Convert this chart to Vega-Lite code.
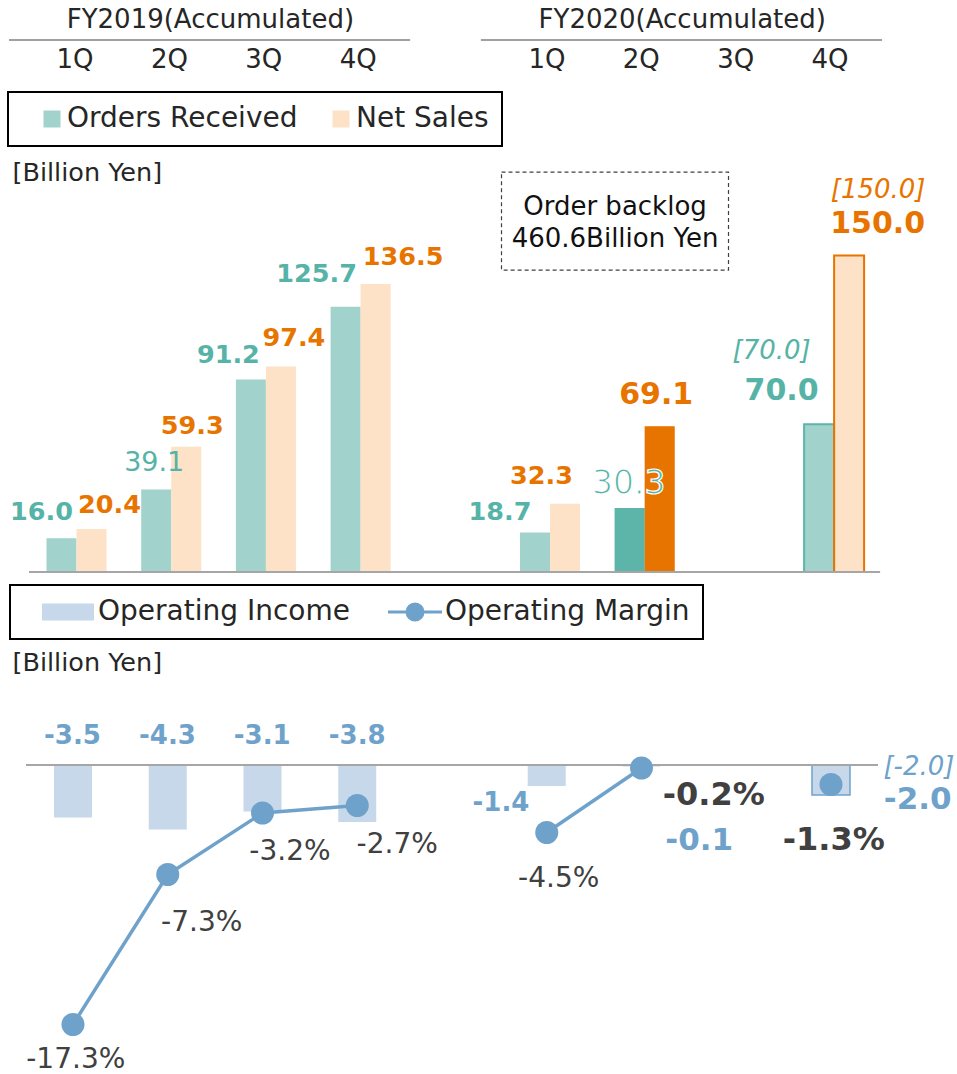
{
  "$schema": "https://vega.github.io/schema/vega-lite/v6.json",
  "padding": 0,
  "spacing": 103,
  "bounds": "flush",
  "resolve": {"scale": {"color": "independent", "fill": "independent", "stroke": "independent"}, "legend": {"color": "independent"}},
  "config": {
    "view": {"stroke": null},
    "font": "DejaVu Sans",
    "locale": {"number": {"decimal": ".", "thousands": ",", "grouping": [3], "currency": ["", ""], "minus": "-"}}
  },
  "datasets": {
    "quarters": [
      {"q": "FY19 1Q", "label": "1Q"}, {"q": "FY19 2Q", "label": "2Q"}, {"q": "FY19 3Q", "label": "3Q"}, {"q": "FY19 4Q", "label": "4Q"},
      {"q": "FY20 1Q", "label": "1Q"}, {"q": "FY20 2Q", "label": "2Q"}, {"q": "FY20 3Q", "label": "3Q"}, {"q": "FY20 4Q", "label": "4Q"}
    ],
    "fiscal": [
      {"fy": "FY2019(Accumulated)", "first": "FY19 1Q", "second": "FY19 2Q", "last": "FY19 4Q"},
      {"fy": "FY2020(Accumulated)", "first": "FY20 1Q", "second": "FY20 2Q", "last": "FY20 4Q"}
    ],
    "sales": [
      {"q": "FY19 1Q", "fy": "FY2019", "series": "Orders Received", "value": 16.0, "status": "actual"},
      {"q": "FY19 1Q", "fy": "FY2019", "series": "Net Sales", "value": 20.4, "status": "actual"},
      {"q": "FY19 2Q", "fy": "FY2019", "series": "Orders Received", "value": 39.1, "status": "actual"},
      {"q": "FY19 2Q", "fy": "FY2019", "series": "Net Sales", "value": 59.3, "status": "actual"},
      {"q": "FY19 3Q", "fy": "FY2019", "series": "Orders Received", "value": 91.2, "status": "actual"},
      {"q": "FY19 3Q", "fy": "FY2019", "series": "Net Sales", "value": 97.4, "status": "actual"},
      {"q": "FY19 4Q", "fy": "FY2019", "series": "Orders Received", "value": 125.7, "status": "actual"},
      {"q": "FY19 4Q", "fy": "FY2019", "series": "Net Sales", "value": 136.5, "status": "actual"},
      {"q": "FY20 1Q", "fy": "FY2020", "series": "Orders Received", "value": 18.7, "status": "actual"},
      {"q": "FY20 1Q", "fy": "FY2020", "series": "Net Sales", "value": 32.3, "status": "actual"},
      {"q": "FY20 2Q", "fy": "FY2020", "series": "Orders Received", "value": 30.3, "status": "latest"},
      {"q": "FY20 2Q", "fy": "FY2020", "series": "Net Sales", "value": 69.1, "status": "latest"},
      {"q": "FY20 4Q", "fy": "FY2020", "series": "Orders Received", "value": 70.0, "status": "forecast", "prev": 70.0},
      {"q": "FY20 4Q", "fy": "FY2020", "series": "Net Sales", "value": 150.0, "status": "forecast", "prev": 150.0}
    ],
    "lower": [
      {"q": "FY19 1Q", "fy": "FY2019", "measure": "Operating Income", "value": -3.5, "status": "actual"},
      {"q": "FY19 2Q", "fy": "FY2019", "measure": "Operating Income", "value": -4.3, "status": "actual"},
      {"q": "FY19 3Q", "fy": "FY2019", "measure": "Operating Income", "value": -3.1, "status": "actual"},
      {"q": "FY19 4Q", "fy": "FY2019", "measure": "Operating Income", "value": -3.8, "status": "actual"},
      {"q": "FY20 1Q", "fy": "FY2020", "measure": "Operating Income", "value": -1.4, "status": "actual"},
      {"q": "FY20 2Q", "fy": "FY2020", "measure": "Operating Income", "value": -0.1, "status": "latest"},
      {"q": "FY20 4Q", "fy": "FY2020", "measure": "Operating Income", "value": -2.0, "status": "forecast", "prev": -2.0},
      {"q": "FY19 1Q", "fy": "FY2019", "measure": "Operating Margin", "value": -17.3, "status": "actual"},
      {"q": "FY19 2Q", "fy": "FY2019", "measure": "Operating Margin", "value": -7.3, "status": "actual"},
      {"q": "FY19 3Q", "fy": "FY2019", "measure": "Operating Margin", "value": -3.2, "status": "actual"},
      {"q": "FY19 4Q", "fy": "FY2019", "measure": "Operating Margin", "value": -2.7, "status": "actual"},
      {"q": "FY20 1Q", "fy": "FY2020", "measure": "Operating Margin", "value": -4.5, "status": "actual"},
      {"q": "FY20 2Q", "fy": "FY2020", "measure": "Operating Margin", "value": -0.2, "status": "latest"},
      {"q": "FY20 4Q", "fy": "FY2020", "measure": "Operating Margin", "value": -1.3, "status": "forecast"}
    ],
    "note": [{"q": "FY20 2Q", "text": "Order backlog\n460.6Billion Yen"}]
  },
  "vconcat": [
    {
      "width": 957,
      "height": 68,
      "layer": [
        {
          "data": {"name": "quarters"},
          "mark": {"type": "text", "fontSize": 26, "color": "#262626"},
          "encoding": {
            "x": {"field": "q", "type": "nominal", "axis": null,
              "scale": {"type": "band", "domain": ["FY19 1Q", "FY19 2Q", "FY19 3Q", "FY19 4Q", "gap", "FY20 1Q", "FY20 2Q", "FY20 3Q", "FY20 4Q"], "paddingInner": 0.3664, "paddingOuter": 0.7534, "align": 0.3172}},
            "y": {"datum": "q", "type": "nominal", "axis": null,
              "scale": {"type": "point", "domain": ["fy", "rule", "q"], "range": [20, 60], "padding": 0}},
            "text": {"field": "label"}
          }
        },
        {
          "data": {"name": "fiscal"},
          "mark": {"type": "rule", "color": "#808080", "strokeWidth": 1.5, "xOffset": -66, "x2Offset": 52},
          "encoding": {
            "x": {"field": "first", "type": "nominal"},
            "x2": {"field": "last"},
            "y": {"datum": "rule", "type": "nominal"}
          }
        },
        {
          "data": {"name": "fiscal"},
          "mark": {"type": "text", "fontSize": 26, "color": "#262626", "dx": 41},
          "encoding": {
            "x": {"field": "second", "type": "nominal"},
            "y": {"datum": "fy", "type": "nominal"},
            "text": {"field": "fy"}
          }
        }
      ]
    },
    {
      "width": 957,
      "height": 401,
      "data": {"name": "sales"},
      "layer": [
        {
          "mark": {"type": "bar"},
          "encoding": {
            "x": {"field": "q", "type": "nominal", "axis": null,
              "scale": {"type": "band", "domain": ["FY19 1Q", "FY19 2Q", "FY19 3Q", "FY19 4Q", "gap", "FY20 1Q", "FY20 2Q", "FY20 3Q", "FY20 4Q"], "paddingInner": 0.3664, "paddingOuter": 0.736, "align": 0.3336}},
            "xOffset": {"field": "series", "type": "nominal", "scale": {"domain": ["Orders Received", "Net Sales"], "paddingInner": 0, "paddingOuter": 0}},
            "y": {"field": "value", "type": "quantitative", "scale": {"domain": [0, 190], "nice": false},
              "axis": {"title": "[Billion Yen]", "titleAngle": 0, "titleAlign": "left", "titleBaseline": "middle", "titleX": 12, "titleY": 1, "titleFontSize": 25.5, "titleFontWeight": "normal", "titleColor": "#262626", "domain": false, "labels": false, "ticks": false, "grid": false}},
            "color": {"field": "series", "type": "nominal",
              "scale": {"domain": ["Orders Received", "Net Sales"], "range": ["#A1D3CC", "#FDE2C8"]},
              "legend": {"orient": "none", "legendX": 8, "legendY": -79, "direction": "horizontal", "title": null,
                "symbolType": "square", "symbolSize": 289, "symbolStrokeWidth": 0, "symbolOffset": 17, "labelOffset": 1,
                "labelExpr": "datum.label == 'Net Sales' ? datum.label + '\u2002' : datum.label",
                "labelFontSize": 28, "labelColor": "#262626", "labelLimit": 400, "columnPadding": 12, "padding": 13,
                "strokeColor": "#000000", "encode": {"legend": {"update": {"strokeWidth": {"value": 2}}}}}}
          }
        },
        {
          "transform": [{"filter": "datum.status == 'latest'"}],
          "mark": {"type": "bar"},
          "encoding": {
            "x": {"field": "q", "type": "nominal"},
            "xOffset": {"field": "series", "type": "nominal"},
            "y": {"field": "value", "type": "quantitative"},
            "fill": {"field": "series", "type": "nominal", "scale": {"domain": ["Orders Received", "Net Sales"], "range": ["#5DB5AA", "#E87400"]}, "legend": null}
          }
        },
        {
          "transform": [{"filter": "datum.status == 'forecast'"}],
          "mark": {"type": "bar", "filled": false, "strokeWidth": 2},
          "encoding": {
            "x": {"field": "q", "type": "nominal"},
            "xOffset": {"field": "series", "type": "nominal"},
            "y": {"field": "value", "type": "quantitative"},
            "stroke": {"field": "series", "type": "nominal", "scale": {"domain": ["Orders Received", "Net Sales"], "range": ["#5DB5AA", "#E87400"]}, "legend": null}
          }
        },
        {
          "data": {"values": [{}]},
          "mark": {"type": "rule", "color": "#A6A6A6", "strokeWidth": 2, "xOffset": -47.5, "x2Offset": 46},
          "encoding": {
            "x": {"datum": "FY19 1Q", "type": "nominal"},
            "x2": {"datum": "FY20 4Q"},
            "y": {"datum": 0, "type": "quantitative"}
          }
        },
        {
          "mark": {"type": "text", "strokeWidth": 1.2,
            "dx": {"expr": "[-20,-2,-22.5,-29,-35,-1,-37.5,18,6,13,27.5,-23.5,-3.5,28.5][indexof(['FY19 1QO','FY19 2QO','FY19 3QO','FY19 4QO','FY20 1QO','FY20 2QO','FY20 4QO','FY19 1QN','FY19 2QN','FY19 3QN','FY19 4QN','FY20 1QN','FY20 2QN','FY20 4QN'], datum.q + substring(datum.series, 0, 1))]"},
            "dy": {"expr": "[-26.5,-26.5,-25,-33,-21,-24.3,-33.7,-24,-20.6,-28.7,-26.7,-27.7,-31,-31.5][indexof(['FY19 1QO','FY19 2QO','FY19 3QO','FY19 4QO','FY20 1QO','FY20 2QO','FY20 4QO','FY19 1QN','FY19 2QN','FY19 3QN','FY19 4QN','FY20 1QN','FY20 2QN','FY20 4QN'], datum.q + substring(datum.series, 0, 1))]"},
            "fontSize": {"expr": "datum.q == 'FY19 2Q' && datum.series == 'Orders Received' ? 27 : datum.status == 'actual' ? 25.5 : datum.status == 'latest' && datum.series == 'Orders Received' ? 33 : 30"},
            "fontWeight": {"expr": "(datum.q == 'FY19 2Q' || datum.status == 'latest') && datum.series == 'Orders Received' ? 'normal' : 'bold'"},
            "fill": {"expr": "datum.series == 'Orders Received' ? '#56B3A7' : '#E87400'"},
            "stroke": {"expr": "datum.status == 'latest' && datum.series == 'Orders Received' ? '#ffffff' : 'transparent'"}
          },
          "encoding": {
            "x": {"field": "q", "type": "nominal"},
            "xOffset": {"field": "series", "type": "nominal"},
            "y": {"field": "value", "type": "quantitative"},
            "text": {"field": "value", "type": "quantitative", "format": ".1f"}
          }
        },
        {
          "transform": [{"filter": "isValid(datum.prev)"}, {"calculate": "'[' + format(datum.prev, '.1f') + ']'", "as": "prevLabel"}],
          "mark": {"type": "text", "fontStyle": "italic", "fontSize": 26,
            "fill": {"expr": "datum.series == 'Orders Received' ? '#56B3A7' : '#E87400'"},
            "dx": {"expr": "datum.series == 'Orders Received' ? -47.5 : 29"},
            "dy": {"expr": "datum.series == 'Orders Received' ? -73.3 : -65.7"}},
          "encoding": {
            "x": {"field": "q", "type": "nominal"},
            "xOffset": {"field": "series", "type": "nominal"},
            "y": {"field": "prev", "type": "quantitative"},
            "text": {"field": "prevLabel"}
          }
        },
        {
          "data": {"name": "note"},
          "mark": {"type": "bar", "width": 227, "xOffset": -29.7, "filled": false, "stroke": "#404040", "strokeWidth": 1.2, "strokeDash": [4, 3]},
          "encoding": {
            "x": {"field": "q", "type": "nominal"},
            "y": {"datum": 189.5},
            "y2": {"datum": 143}
          }
        },
        {
          "data": {"name": "note"},
          "mark": {"type": "text", "dx": -29.7, "fontSize": 26, "color": "#111111", "lineBreak": "\n", "lineHeight": 32},
          "encoding": {
            "x": {"field": "q", "type": "nominal"},
            "y": {"datum": 172.9},
            "text": {"field": "text"}
          }
        }
      ]
    },
    {
      "width": 957,
      "height": 390,
      "data": {"name": "lower"},
      "layer": [
        {
          "transform": [{"filter": "datum.measure == 'Operating Income'"}],
          "mark": {"type": "bar", "width": 38},
          "encoding": {
            "x": {"field": "q", "type": "nominal", "axis": null,
              "scale": {"type": "band", "domain": ["FY19 1Q", "FY19 2Q", "FY19 3Q", "FY19 4Q", "gap", "FY20 1Q", "FY20 2Q", "FY20 3Q", "FY20 4Q"], "paddingInner": 0.5, "paddingOuter": 0.8002, "align": 0.3252}},
            "y": {"field": "value", "type": "quantitative", "scale": {"domain": [-20, 6], "nice": false},
              "axis": {"title": "[Billion Yen]", "titleAngle": 0, "titleAlign": "left", "titleBaseline": "middle", "titleX": 12, "titleY": -13, "titleFontSize": 25.5, "titleFontWeight": "normal", "titleColor": "#262626", "domain": false, "labels": false, "ticks": false, "grid": false}},
            "color": {"field": "measure", "type": "nominal",
              "scale": {"domain": ["Operating Income", "Operating Margin"], "range": ["#C6D8E9", "#6FA2CB"]},
              "legend": {"orient": "none", "legendX": 10, "legendY": -90, "direction": "horizontal", "title": null,
                "symbolSize": 400, "symbolStrokeWidth": 0, "symbolOffset": 31, "labelOffset": 16,
                "labelExpr": "datum.label == 'Operating Margin' ? datum.label + '\u2002' : datum.label",
                "labelFontSize": 28, "labelColor": "#262626", "labelLimit": 400, "columnPadding": 20, "padding": 13,
                "strokeColor": "#000000",
                "encode": {
                  "legend": {"update": {"strokeWidth": {"value": 2}}},
                  "symbols": {"update": {
                    "shape": {"signal": "datum.value == 'Operating Income' ? 'M-2.6,-0.85H2.6V0.85H-2.6Z' : 'M-2.7,0H2.7M0.8,0A0.8,0.8,0,1,1,-0.8,0A0.8,0.8,0,1,1,0.8,0'"},
                    "fill": {"signal": "datum.value == 'Operating Income' ? '#C6D8E9' : '#6FA2CB'"},
                    "stroke": {"value": "#6FA2CB"},
                    "strokeWidth": {"signal": "datum.value == 'Operating Income' ? 0 : 3"},
                    "opacity": {"value": 1},
                    "fillOpacity": {"value": 1}
                  }}
                }}}
          }
        },
        {
          "transform": [{"filter": "datum.measure == 'Operating Income' && datum.status == 'forecast'"}],
          "mark": {"type": "bar", "width": 38, "filled": false, "stroke": "#6FA2CB", "strokeWidth": 1.5},
          "encoding": {
            "x": {"field": "q", "type": "nominal"},
            "y": {"field": "value", "type": "quantitative"}
          }
        },
        {
          "data": {"values": [{}]},
          "mark": {"type": "rule", "color": "#A6A6A6", "strokeWidth": 2, "xOffset": -47, "x2Offset": 47},
          "encoding": {
            "x": {"datum": "FY19 1Q", "type": "nominal"},
            "x2": {"datum": "FY20 4Q"},
            "y": {"datum": 0, "type": "quantitative"}
          }
        },
        {
          "transform": [{"filter": "datum.measure == 'Operating Margin' && datum.status != 'forecast'"}],
          "mark": {"type": "line", "strokeWidth": 3.5},
          "encoding": {
            "x": {"field": "q", "type": "nominal"},
            "y": {"field": "value", "type": "quantitative"},
            "color": {"field": "measure", "type": "nominal"},
            "detail": {"field": "fy", "type": "nominal"}
          }
        },
        {
          "transform": [{"filter": "datum.measure == 'Operating Margin'"}],
          "mark": {"type": "circle", "size": 530, "opacity": 1},
          "encoding": {
            "x": {"field": "q", "type": "nominal"},
            "y": {"field": "value", "type": "quantitative"},
            "color": {"field": "measure", "type": "nominal"}
          }
        },
        {
          "transform": [{"filter": "datum.measure == 'Operating Income'"}],
          "mark": {"type": "text", "fontWeight": "bold", "fill": "#6FA2CB",
            "fontSize": {"expr": "datum.status == 'actual' ? 26 : 31"},
            "dx": {"expr": "[-0.5,-0.25,-0.3,0,-45.75,57.7,86.7][indexof(['FY19 1Q','FY19 2Q','FY19 3Q','FY19 4Q','FY20 1Q','FY20 2Q','FY20 4Q'], datum.q)]"},
            "dy": {"expr": "[-81.8,-93.8,-75.8,-86.3,17.3,74.2,5][indexof(['FY19 1Q','FY19 2Q','FY19 3Q','FY19 4Q','FY20 1Q','FY20 2Q','FY20 4Q'], datum.q)]"}},
          "encoding": {
            "x": {"field": "q", "type": "nominal"},
            "y": {"field": "value", "type": "quantitative"},
            "text": {"field": "value", "type": "quantitative", "format": ".1f"}
          }
        },
        {
          "transform": [{"filter": "isValid(datum.prev)"}, {"calculate": "'[' + format(datum.prev, '.1f') + ']'", "as": "prevLabel"}],
          "mark": {"type": "text", "fontStyle": "italic", "fontSize": 26, "fill": "#6FA2CB", "dx": 88, "dy": -28.3},
          "encoding": {
            "x": {"field": "q", "type": "nominal"},
            "y": {"field": "prev", "type": "quantitative"},
            "text": {"field": "prevLabel"}
          }
        },
        {
          "transform": [{"filter": "datum.measure == 'Operating Margin'"}],
          "mark": {"type": "text", "fill": "#404040",
            "text": {"expr": "format(datum.value, '.1f') + '%'"},
            "fontSize": {"expr": "datum.status == 'actual' ? 28 : 32"},
            "fontWeight": {"expr": "datum.status == 'actual' ? 'normal' : 'bold'"},
            "dx": {"expr": "[2.8,34,27.5,40,12,72.3,2.7][indexof(['FY19 1Q','FY19 2Q','FY19 3Q','FY19 4Q','FY20 1Q','FY20 2Q','FY20 4Q'], datum.q)]"},
            "dy": {"expr": "[35.5,48.5,39,39,46,27,55.5][indexof(['FY19 1Q','FY19 2Q','FY19 3Q','FY19 4Q','FY20 1Q','FY20 2Q','FY20 4Q'], datum.q)]"}},
          "encoding": {
            "x": {"field": "q", "type": "nominal"},
            "y": {"field": "value", "type": "quantitative"}
          }
        }
      ]
    }
  ]
}
